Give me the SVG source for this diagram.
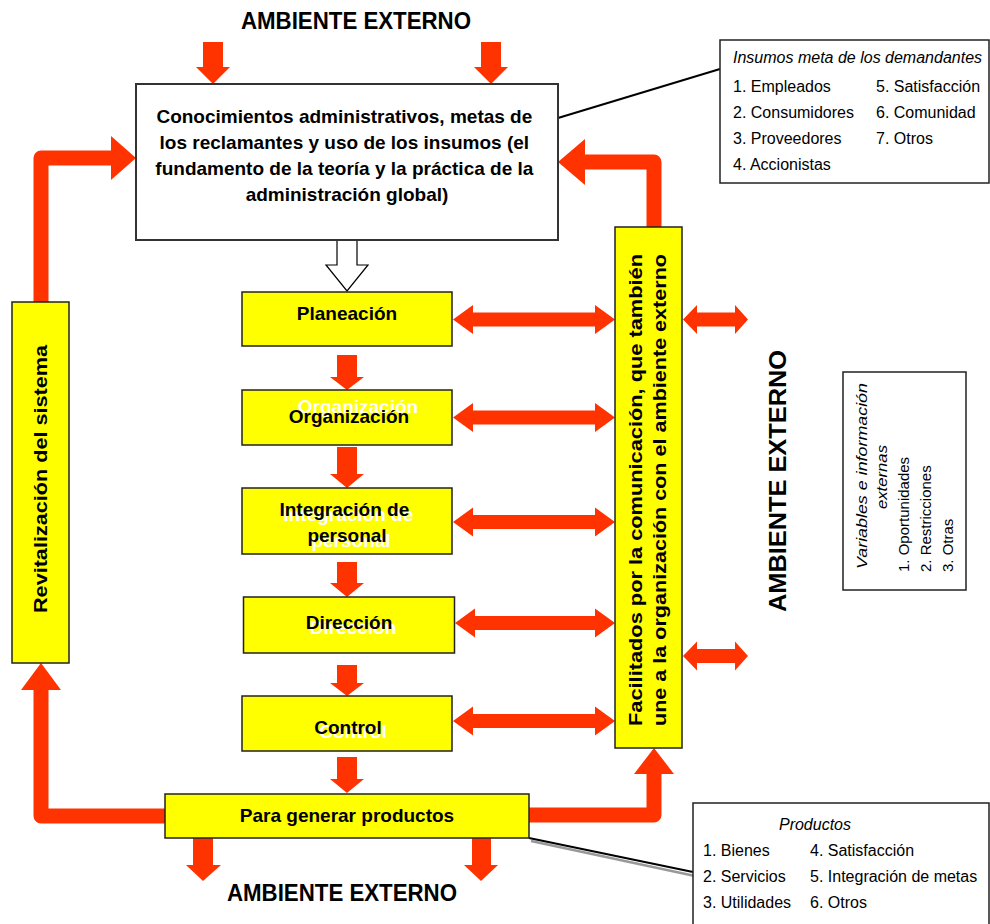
<svg xmlns="http://www.w3.org/2000/svg" width="990" height="924" viewBox="0 0 990 924">
  <style>
    text { font-family: "Liberation Sans", Arial, sans-serif; }
    .title { font-size: 24px; font-weight: bold; fill: #000; }
    .bold { font-size: 19px; font-weight: bold; fill: #000; }
    .ghost { font-size: 19px; font-weight: bold; fill: #fff; }
    .info { font-size: 16px; fill: #000; }
    .info-i { font-size: 16px; font-style: italic; fill: #000; }
    .vinfo { font-size: 15px; fill: #000; }
    .vinfo-i { font-size: 15.5px; font-style: italic; fill: #000; }
    .ybox { fill: #ffff00; stroke: #222; stroke-width: 1.5; }
    .wbox { fill: #fff; stroke: #222; stroke-width: 1.5; }
    .arrow { fill: #ff3300; }
    .loop { fill: none; stroke: #ff3300; stroke-width: 15; stroke-linejoin: round; }
    .callout { stroke: #000; stroke-width: 2; fill: none; }
  </style>

  <!-- outer environment labels -->
  <text class="title" x="356" y="29" text-anchor="middle" textLength="230" lengthAdjust="spacingAndGlyphs">AMBIENTE EXTERNO</text>
  <text class="title" x="342" y="901" text-anchor="middle" textLength="230" lengthAdjust="spacingAndGlyphs">AMBIENTE EXTERNO</text>
  <text class="title" transform="translate(786,481) rotate(-90)" text-anchor="middle" textLength="262" lengthAdjust="spacingAndGlyphs">AMBIENTE EXTERNO</text>

  <!-- connectors -->
  <g id="connectors">
    <!-- inputs from the environment -->
    <polygon class="arrow" points="203,42 223,42 223,67 230,67 213,84 196,67 203,67"/>
    <polygon class="arrow" points="481,42 501,42 501,67 508,67 491,84 474,67 481,67"/>

    <!-- hollow arrow into Planeación -->
    <polygon points="337,240 357,240 357,265 368,265 347,291 326,265 337,265" fill="#fff" stroke="#000" stroke-width="1.2"/>

    <!-- process chain -->
    <polygon class="arrow" points="337,355 357,355 357,377 364,377 347,390 330,377 337,377"/>
    <polygon class="arrow" points="337,447 357,447 357,474 364,474 347,488 330,474 337,474"/>
    <polygon class="arrow" points="337,562 357,562 357,583 364,583 347,597 330,583 337,583"/>
    <polygon class="arrow" points="337,665 357,665 357,683 364,683 347,696 330,683 337,683"/>
    <polygon class="arrow" points="337,757 357,757 357,779 364,779 347,793 330,779 337,779"/>

    <!-- outputs to the environment -->
    <polygon class="arrow" points="193,838 213,838 213,865 221,865 203,881 186,865 193,865"/>
    <polygon class="arrow" points="472,838 491,838 491,865 498,865 481,881 464,865 472,865"/>

    <!-- two-way links to communication bar -->
    <polygon class="arrow" points="453,319.5 473,305 473,312.5 595,312.5 595,305 615,319.5 595,334 595,326.5 473,326.5 473,334"/>
    <polygon class="arrow" points="453,417.5 473,403 473,410.5 595,410.5 595,403 615,417.5 595,432 595,424.5 473,424.5 473,432"/>
    <polygon class="arrow" points="453,522 473,507.5 473,515 595,515 595,507.5 615,522 595,536.5 595,529 473,529 473,536.5"/>
    <polygon class="arrow" points="455,623 475,608.5 475,616 595,616 595,608.5 615,623 595,637.5 595,630 475,630 475,637.5"/>
    <polygon class="arrow" points="453,721 473,706.5 473,714 595,714 595,706.5 615,721 595,735.5 595,728 473,728 473,735.5"/>

    <!-- two-way links to the environment -->
    <polygon class="arrow" points="683,319.5 697,305 697,312.5 735,312.5 735,305 748,319.5 735,334 735,326.5 697,326.5 697,334"/>
    <polygon class="arrow" points="683,656 697,641.5 697,649 735,649 735,641.5 748,656 735,670.5 735,663 697,663 697,670.5"/>

    <!-- revitalization loop (left) -->
    <path class="loop" d="M165,816 H41 V689"/>
    <polygon class="arrow" points="21,690 61,690 41,663"/>
    <path class="loop" d="M41,302 V158 H112"/>
    <polygon class="arrow" points="111,136 111,180 136,158"/>

    <!-- communication loop (right) -->
    <path class="loop" d="M654,227 V162 H585"/>
    <polygon class="arrow" points="585,139 585,185 558,162"/>
    <path class="loop" d="M529,815 H654 V773"/>
    <polygon class="arrow" points="634,774 674,774 654,748"/>

    <!-- callout lines -->
    <line class="callout" x1="558" y1="118" x2="720" y2="69"/>
    <line x1="531" y1="841" x2="695" y2="876" stroke="#999" stroke-width="2.5"/>
    <line class="callout" x1="529" y1="838" x2="693" y2="872"/>
  </g>

  <!-- knowledge base -->
  <g id="base">
    <rect x="136" y="84" width="422" height="156" fill="#fff" stroke="#333" stroke-width="2"/>
    <text class="bold" text-anchor="middle">
      <tspan x="347" y="123">Conocimientos administrativos, metas de</tspan>
      <tspan x="347" y="149">los reclamantes y uso de los insumos (el</tspan>
      <tspan x="347" y="175">fundamento de la teoría y la práctica de la</tspan>
      <tspan x="347" y="201">administración global)</tspan>
    </text>
  </g>

  <g id="planeacion">
    <rect class="ybox" x="242" y="292" width="210" height="54"/>
    <text class="bold" x="347" y="320" text-anchor="middle">Planeación</text>
  </g>

  <g id="organizacion">
    <rect class="ybox" x="242" y="390" width="210" height="55"/>
    <text class="ghost" x="358" y="413" text-anchor="middle">Organización</text>
    <text class="bold" x="349" y="423" text-anchor="middle">Organización</text>
  </g>

  <g id="integracion">
    <rect class="ybox" x="242" y="488" width="210" height="66"/>
    <text class="ghost" text-anchor="middle">
      <tspan x="351" y="521">Integración de</tspan>
      <tspan x="351" y="547">personal</tspan>
    </text>
    <text class="bold" text-anchor="middle">
      <tspan x="347" y="516">Integración de</tspan>
      <tspan x="347" y="542">personal</tspan>
    </text>
  </g>

  <g id="direccion">
    <rect class="ybox" x="243.5" y="597" width="211" height="56"/>
    <text class="ghost" x="353" y="634" text-anchor="middle">Dirección</text>
    <text class="bold" x="349" y="629" text-anchor="middle">Dirección</text>
  </g>

  <g id="control">
    <rect class="ybox" x="242" y="696" width="210" height="55"/>
    <text class="ghost" x="353" y="738" text-anchor="middle">Control</text>
    <text class="bold" x="348" y="734" text-anchor="middle">Control</text>
  </g>

  <g id="productos-proceso">
    <rect class="ybox" x="165" y="794" width="364" height="44"/>
    <text class="bold" x="347" y="822" text-anchor="middle">Para generar productos</text>
  </g>

  <g id="revitalizacion">
    <rect class="ybox" x="12" y="302" width="57" height="361"/>
    <text class="bold" transform="translate(47,479) rotate(-90)" text-anchor="middle" textLength="268" lengthAdjust="spacingAndGlyphs">Revitalización del sistema</text>
  </g>

  <g id="comunicacion">
    <rect class="ybox" x="615" y="227" width="67" height="521"/>
    <text class="bold" transform="translate(642,490) rotate(-90)" text-anchor="middle" textLength="472" lengthAdjust="spacingAndGlyphs">Facilitados por la comunicación, que también</text>
    <text class="bold" transform="translate(666,490) rotate(-90)" text-anchor="middle" textLength="472" lengthAdjust="spacingAndGlyphs">une a la organización con el ambiente externo</text>
  </g>

  <g id="insumos">
    <rect class="wbox" x="720" y="40" width="269" height="143"/>
    <text class="info-i" x="733" y="63">Insumos meta de los demandantes</text>
    <text class="info" x="733" y="92">1. Empleados</text>
    <text class="info" x="733" y="118">2. Consumidores</text>
    <text class="info" x="733" y="144">3. Proveedores</text>
    <text class="info" x="733" y="170">4. Accionistas</text>
    <text class="info" x="876" y="92">5. Satisfacción</text>
    <text class="info" x="876" y="118">6. Comunidad</text>
    <text class="info" x="876" y="144">7. Otros</text>
  </g>

  <g id="variables">
    <rect class="wbox" x="843" y="372" width="123" height="218"/>
    <text class="vinfo-i" transform="translate(867,476) rotate(-90)" text-anchor="middle" textLength="186" lengthAdjust="spacingAndGlyphs">Variables e información</text>
    <text class="vinfo-i" transform="translate(887,477) rotate(-90)" text-anchor="middle" textLength="64" lengthAdjust="spacingAndGlyphs">externas</text>
    <text class="vinfo" transform="translate(909,572) rotate(-90)">1. Oportunidades</text>
    <text class="vinfo" transform="translate(931,572) rotate(-90)">2. Restricciones</text>
    <text class="vinfo" transform="translate(953,572) rotate(-90)">3. Otras</text>
  </g>

  <g id="productos">
    <rect class="wbox" x="693" y="803" width="296" height="125"/>
    <text class="info-i" x="815" y="830" text-anchor="middle">Productos</text>
    <text class="info" x="703" y="856">1. Bienes</text>
    <text class="info" x="703" y="882">2. Servicios</text>
    <text class="info" x="703" y="908">3. Utilidades</text>
    <text class="info" x="810" y="856">4. Satisfacción</text>
    <text class="info" x="810" y="882">5. Integración de metas</text>
    <text class="info" x="810" y="908">6. Otros</text>
  </g>
</svg>
